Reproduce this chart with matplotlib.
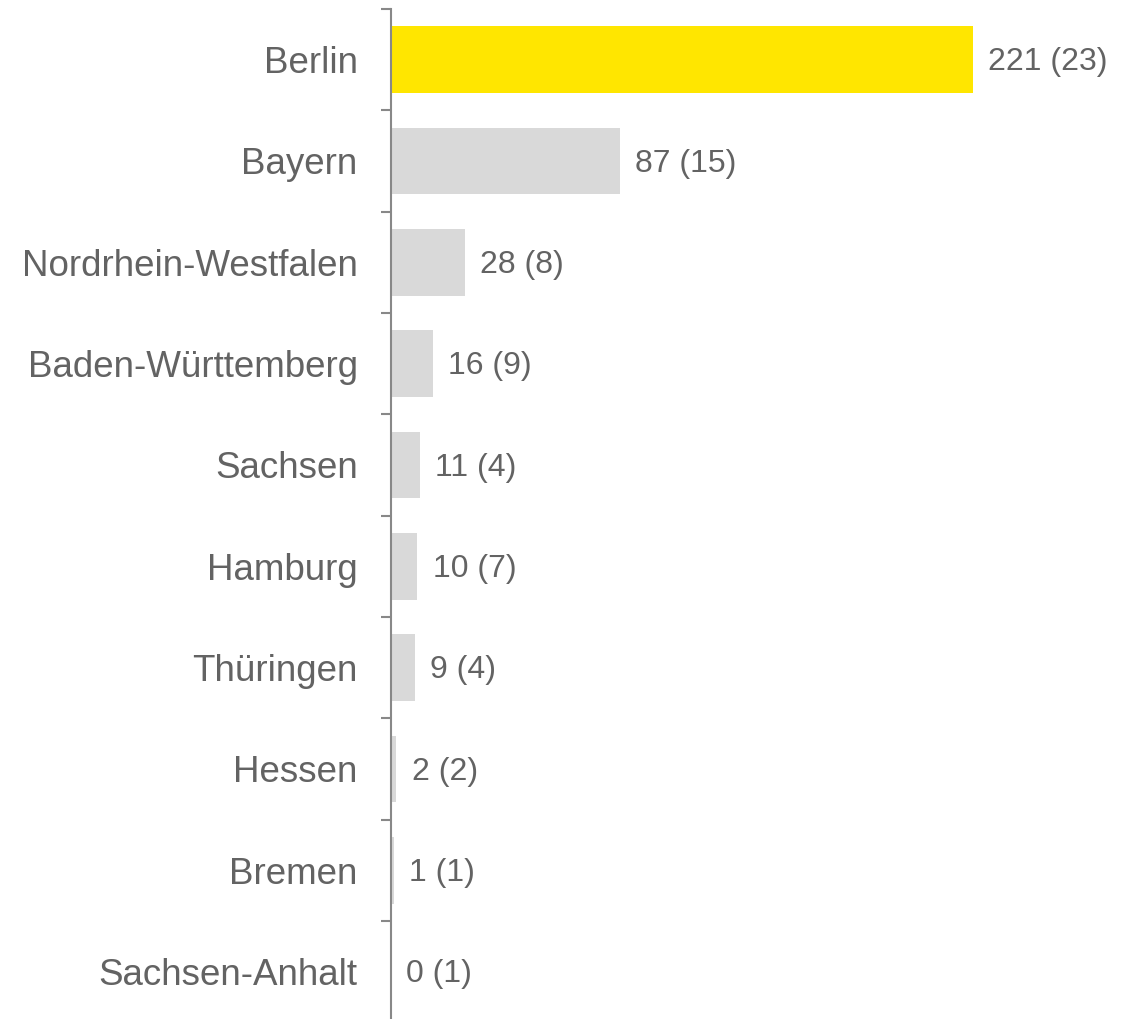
import matplotlib
matplotlib.use("Agg")
import matplotlib.pyplot as plt
import numpy as np

categories = ["Berlin", "Bayern", "Nordrhein-Westfalen", "Baden-Württemberg", "Sachsen",
              "Hamburg", "Thüringen", "Hessen", "Bremen", "Sachsen-Anhalt"]
values = [221, 87, 28, 16, 11, 10, 9, 2, 1, 0]
counts = [23, 15, 8, 9, 4, 7, 4, 2, 1, 1]
labels = [f"{v} ({c})" for v, c in zip(values, counts)]
colors = ["#FFE600"] + ["#D9D9D9"] * (len(values) - 1)

plt.rcParams['font.family'] = ['Liberation Sans', 'DejaVu Sans']
W, H = 1128, 1019
fig = plt.figure(figsize=(W / 100, H / 100), dpi=100)
left = 391 / W
bottom_px = 9 + 10 * 101.33
ax = fig.add_axes([left, 1 - bottom_px / H, 1 - left, (bottom_px - 9) / H])

y = np.arange(len(categories))
ax.barh(y, values, height=0.66, color=colors)
ax.set_ylim(len(categories) - 0.5, -0.5)
ax.set_xlim(0, (W - 391) / 2.634)

text_color = "#636363"
for yi, v, lab in zip(y, values, labels):
    ax.annotate(lab, (v, yi), xytext=(11, -2), textcoords="offset points",
                va="center", ha="left", fontsize=23, color=text_color)

ax.set_yticks(y)
ax.set_yticklabels(categories, fontsize=26.5, color=text_color)
ax.tick_params(axis="y", which="major", length=0, pad=24)
ax.set_yticks(np.arange(-0.5, len(categories), 1), minor=True)
ax.tick_params(axis="y", which="minor", length=7.5, width=1.5, color="#888888")
ax.set_xticks([])
for s in ["top", "right", "bottom"]:
    ax.spines[s].set_visible(False)
ax.spines["left"].set_color("#888888")
ax.spines["left"].set_linewidth(1.5)

fig.savefig("out.png", dpi=100)
